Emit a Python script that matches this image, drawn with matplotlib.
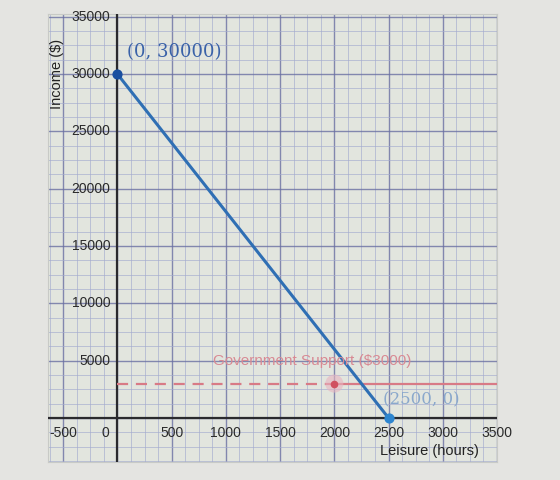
import matplotlib
matplotlib.use("Agg")
import matplotlib.pyplot as plt
from matplotlib.ticker import MultipleLocator

# Data
budget_x = [0, 2500]
budget_y = [30000, 0]
support_level = 3000
support_point_x = 2000
x_ticks = [-500, 500, 1000, 1500, 2000, 2500, 3000, 3500]
y_ticks = [5000, 10000, 15000, 20000, 25000, 30000, 35000]

fig = plt.figure(figsize=(5.6, 4.8), dpi=100)
fig.patch.set_facecolor("#e4e4e1")
ax = fig.add_axes([48/560, 1-462/480, (497-48)/560, (462-14)/480])
ax.set_facecolor("#e2e5de")
ax.set_xlim(-640, 3500)
ax.set_ylim(-3840, 35240)

ax.xaxis.set_major_locator(MultipleLocator(500))
ax.xaxis.set_minor_locator(MultipleLocator(125))
ax.yaxis.set_major_locator(MultipleLocator(5000))
ax.yaxis.set_minor_locator(MultipleLocator(1250))
ax.grid(which="major", color="#6a70a2", lw=1.0, alpha=0.8)
ax.grid(which="minor", color="#a4abcf", lw=0.7, alpha=0.65)
ax.tick_params(which="both", length=0, labelbottom=False, labelleft=False)
for s in ax.spines.values():
    s.set_color("#c8cac6")
    s.set_linewidth(0.8)

ax.axhline(0, color="#2a2a2e", lw=1.6, zorder=3)
ax.axvline(0, color="#2a2a2e", lw=1.6, zorder=3)

tick_kw = dict(fontsize=10, color="#2a2a2a", family="Liberation Sans", zorder=4)
for v in y_ticks:
    ax.annotate(str(v), (0, v), xytext=(-5, 0), textcoords="offset points",
                ha="right", va="center", **tick_kw)
for v in x_ticks:
    ax.annotate(str(v), (v, 0), xytext=(0, -6), textcoords="offset points",
                ha="center", va="top", **tick_kw)
ax.annotate("0", (0, 0), xytext=(-6, -6), textcoords="offset points",
            ha="right", va="top", **tick_kw)

ax.text(-560, 30000, "Income ($)", rotation=90, ha="center", va="center",
        fontsize=10.5, color="#222222", family="Liberation Sans", zorder=4)
ax.annotate("Leisure (hours)", (2880, 0), xytext=(0, -19), textcoords="offset points",
            ha="center", va="top", fontsize=10.5, color="#222222",
            family="Liberation Sans", zorder=4)

# Government support line
ax.plot([0, support_point_x], [support_level, support_level], color="#d87a86",
        lw=1.6, ls=(0, (5, 3.5)), zorder=4)
ax.plot([support_point_x, 3500], [support_level, support_level], color="#d87a86",
        lw=1.6, zorder=4)
ax.scatter([support_point_x], [support_level], s=170, color="#e8b4c0", alpha=0.6,
           edgecolors="none", zorder=5)
ax.scatter([support_point_x], [support_level], s=20, color="#d05060", zorder=6)
ax.text(1800, 5000, "Government Support ($3000)", ha="center", va="center",
        fontsize=11, color="#d88a94", family="Liberation Sans", zorder=6)

# Budget line
ax.plot(budget_x, budget_y, color="#2f6fb4", lw=2.2, zorder=5,
        solid_capstyle="round")
ax.scatter([budget_x[0]], [budget_y[0]], s=40, color="#1a4fa0", zorder=6)
ax.scatter([budget_x[1]], [budget_y[1]], s=40, color="#2e86d0", zorder=6)

ax.text(90, 31900, "(0, 30000)", ha="left", va="center", fontsize=13,
        color="#3a62a8", family="DejaVu Serif", zorder=6)
ax.text(2450, 1550, "(2500, 0)", ha="left", va="center", fontsize=12,
        color="#8aa8cc", family="DejaVu Serif", zorder=6)

fig.savefig("out.png", dpi=100, facecolor=fig.get_facecolor())
